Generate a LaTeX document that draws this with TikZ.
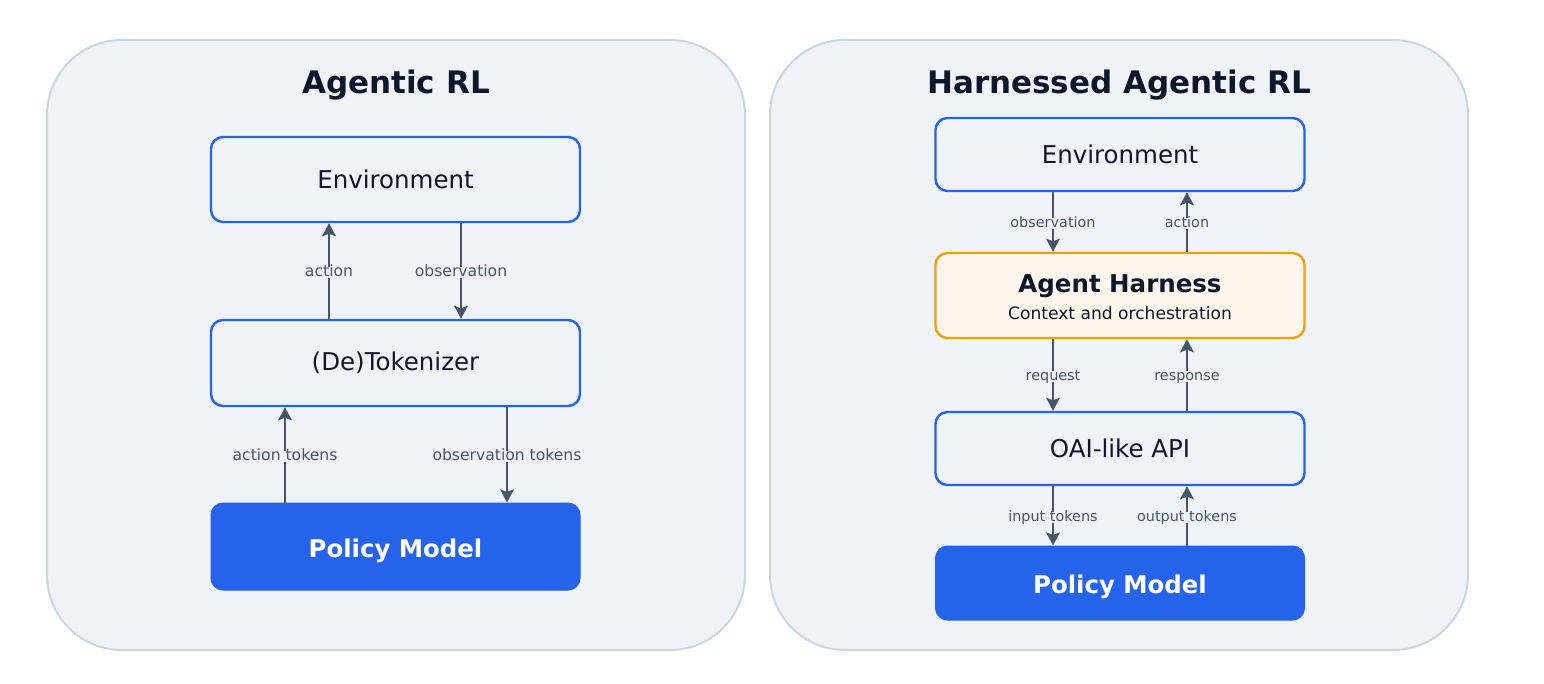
\documentclass[tikz,border=0pt]{standalone}
\usepackage{fontspec}
\setmainfont{DejaVu Sans}
\usetikzlibrary{arrows.meta}
\definecolor{panelbg}{HTML}{EFF3F8}
\definecolor{panelline}{HTML}{CBD5E1}
\definecolor{boxline}{HTML}{2563EB}
\definecolor{policyfill}{HTML}{2563EB}
\definecolor{darktext}{HTML}{0F172A}
\definecolor{labeltext}{HTML}{475569}
\definecolor{arrowcol}{HTML}{475569}
\definecolor{harnessfill}{HTML}{FFF7ED}
\definecolor{harnessline}{HTML}{F59E0B}
\tikzset{
  panel/.style={draw=panelline, fill=panelbg, line width=2pt, rounded corners=75pt},
  titletext/.style={text=darktext, font=\fontsize{31}{36}\selectfont\bfseries},
  box/.style={draw=boxline, fill=panelbg, line width=2.4pt, rounded corners=12pt,
    text=darktext, font=\fontsize{24.5}{29}\selectfont, minimum width=369pt},
  policybox/.style={draw=policyfill, fill=policyfill, line width=1pt, rounded corners=12pt,
    text=white, font=\fontsize{24.4}{29}\selectfont\bfseries, minimum width=369pt,
    text height=21.5pt, text depth=0pt},
  harnessbox/.style={draw=harnessline, fill=harnessfill, line width=2.4pt, rounded corners=12pt,
    text=darktext, minimum width=369pt, minimum height=85pt, align=center,
    font=\fontsize{17.1}{27.3}\selectfont, text height=49pt, text depth=0pt},
  arr/.style={draw=arrowcol, line width=2.6pt, -{Stealth[length=13pt,width=13.5pt,inset=2.5pt]}},
  lbl/.style={fill=panelbg, text=labeltext, inner sep=2pt, text height=0.76em, text depth=0pt,
    yshift=-1.5pt, font=\fontsize{15.6}{18}\selectfont},
  lbls/.style={fill=panelbg, text=labeltext, inner sep=2pt, text height=0.76em, text depth=0pt,
    yshift=-1.5pt, font=\fontsize{14.4}{17}\selectfont},
}
\begin{document}
\begin{tikzpicture}[x=1pt, y=-1pt]
\useasboundingbox (0,0) rectangle (1544,684);
% panels
\draw[panel] (47,40) rectangle (745,650);
\draw[panel] (770,40) rectangle (1468,650);
\node[titletext] (t1) at (396,85) {Agentic RL};
\node[titletext] (t2) at (1119,85) {Harnessed Agentic RL};
% left column
\node[box, minimum height=85pt] (envL) at (395.5,179.5) {Environment};
\node[box, minimum height=86pt] (tok) at (395.5,363) {(De)Tokenizer};
\node[policybox, minimum height=87pt] (polL) at (395.5,546.5) {Policy Model};
\draw[arr] ([xshift=-66.5pt]tok.north) -- node[lbl] (la1) {action} ([xshift=-66.5pt]envL.south);
\draw[arr] ([xshift=65.5pt]envL.south) -- node[lbl] (lo1) {observation} ([xshift=65.5pt]tok.north);
\draw[arr] ([xshift=-110.5pt]polL.north) -- node[lbl] (lat) {action tokens} ([xshift=-110.5pt]tok.south);
\draw[arr] ([xshift=111.5pt]tok.south) -- node[lbl] (lot) {observation tokens} ([xshift=111.5pt]polL.north);
% right column
\node[box, minimum height=73pt] (envR) at (1120,154.5) {Environment};
\node[harnessbox] (har) at (1120,295.5) {{\fontsize{24.5}{27.3}\selectfont\bfseries Agent Harness}\\Context and orchestration};
\node[box, minimum height=73pt] (api) at (1120,448.5) {OAI-like API};
\node[policybox, minimum height=74pt] (polR) at (1120,583) {Policy Model};
\draw[arr] ([xshift=-67pt]envR.south) -- node[lbls] (lo2) {observation} ([xshift=-67pt]har.north);
\draw[arr] ([xshift=67pt]har.north) -- node[lbls] (la2) {action} ([xshift=67pt]envR.south);
\draw[arr] ([xshift=-67pt]har.south) -- node[lbls] (lreq) {request} ([xshift=-67pt]api.north);
\draw[arr] ([xshift=67pt]api.north) -- node[lbls] (lres) {response} ([xshift=67pt]har.south);
\draw[arr] ([xshift=-67pt]api.south) -- node[lbls] (lin) {input tokens} ([xshift=-67pt]polR.north);
\draw[arr] ([xshift=67pt]polR.north) -- node[lbls] (lout) {output tokens} ([xshift=67pt]api.south);
\end{tikzpicture}
\end{document}
